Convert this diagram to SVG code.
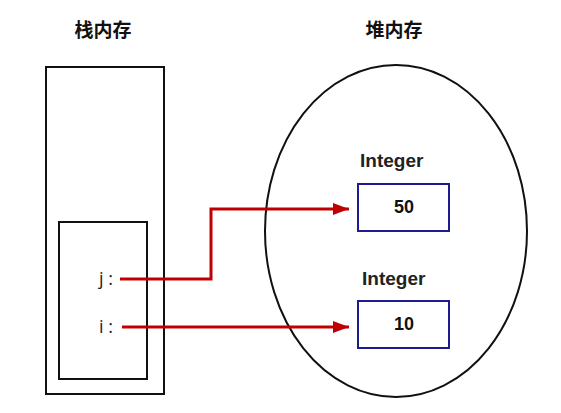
<svg xmlns="http://www.w3.org/2000/svg" width="561" height="413" viewBox="0 0 561 413">
<defs>
<style>
.box{fill:none;stroke:#111;stroke-width:2}
.vbox{fill:#fff;stroke:#1c1c8c;stroke-width:2}
.title{font-family:"Noto Sans CJK SC",sans-serif;font-size:19px;font-weight:bold;fill:#111;text-anchor:middle}
.type{font-family:"Liberation Sans",Arial,sans-serif;font-size:19px;font-weight:bold;fill:#222}
.val{font-family:"Liberation Sans",Arial,sans-serif;font-size:18px;font-weight:bold;fill:#111;text-anchor:middle}
.var{font-family:"Open Sans",sans-serif;font-size:18px;fill:#222;text-anchor:end}
.ref{fill:none;stroke:#c00000;stroke-width:3}
</style>
<marker id="arr" viewBox="0 0 16 12" markerWidth="16" markerHeight="12" refX="16" refY="6" orient="auto" markerUnits="userSpaceOnUse"><path d="M0,0 L16,6 L0,12 Z" fill="#c00000"/></marker>
</defs>
<g id="stack">
<text class="title" x="103" y="37">栈内存</text>
<rect class="box" x="46" y="67" width="118" height="327"/>
<rect class="box" x="59" y="222" width="88" height="157"/>
<text class="var" x="113" y="285">j :</text>
<text class="var" x="113" y="333">i :</text>
</g>
<g id="heap">
<text class="title" x="394" y="37">堆内存</text>
<ellipse cx="396" cy="231" rx="131" ry="166" fill="none" stroke="#111" stroke-width="2"/>
</g>
<g id="int50">
<text class="type" x="360" y="167">Integer</text>
<rect class="vbox" x="358" y="184" width="91" height="47"/>
<text class="val" x="404" y="213">50</text>
</g>
<g id="int10">
<text class="type" x="362" y="285">Integer</text>
<rect class="vbox" x="358" y="301" width="91" height="47"/>
<text class="val" x="404" y="330">10</text>
</g>
<g id="connectors">
<polyline class="ref" points="120,279 211,279 211,209 349,209" marker-end="url(#arr)"/>
<polyline class="ref" points="122,327 349,327" marker-end="url(#arr)"/>
</g>
</svg>
